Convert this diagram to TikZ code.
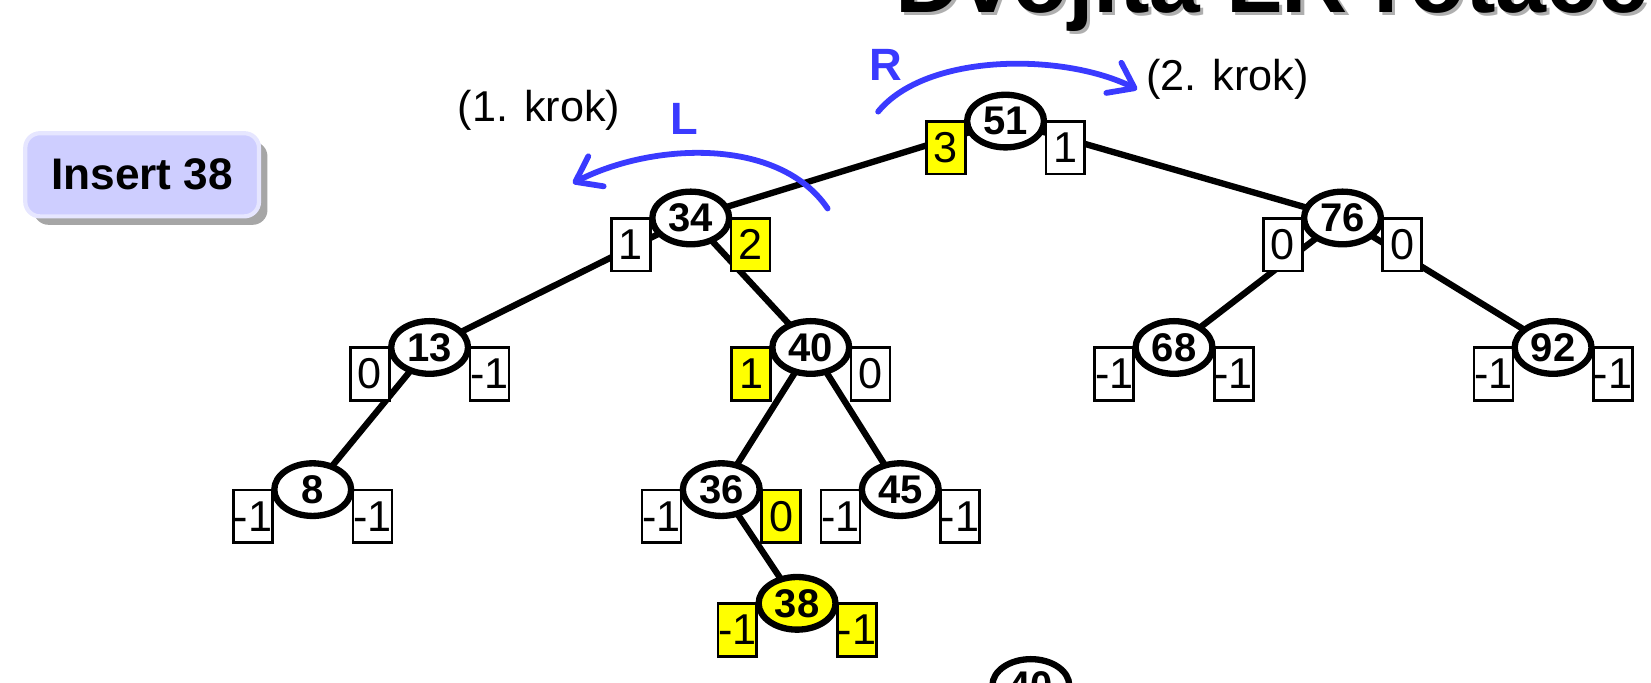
\documentclass[tikz,border=0pt]{standalone}
\usepackage{fontspec}
\setmainfont{Liberation Sans}
\usetikzlibrary{arrows.meta,backgrounds,shapes.geometric,shadows}
\definecolor{arcblue}{RGB}{58,58,255}
\definecolor{hl}{RGB}{255,255,0}
\definecolor{insfill}{RGB}{206,206,255}
\definecolor{insborder}{RGB}{230,230,255}
\definecolor{shadowgray}{RGB}{150,150,150}
\definecolor{titleshadow}{RGB}{175,175,175}
\newcommand\avlnode[9]{%
  \node[bal,#7,anchor=north east] (#1l) at (#2-37,#3-1) {#5};
  \node[bal,#8,anchor=north west] (#1r) at (#2+37,#3-1) {#6};
  \node[key,#9] (#1) at (#2,#3) {#4};
}
\begin{document}
\begin{tikzpicture}[x=1pt,y=-1pt,
  key/.style={ellipse,draw,line width=6pt,minimum width=73pt,minimum height=50pt,
    inner sep=0pt,fill=white,font=\fontsize{38}{38}\selectfont\bfseries},
  bal/.style={draw,line width=2.5pt,minimum width=37pt,minimum height=50pt,
    inner sep=0pt,fill=white,font=\fontsize{41}{41}\selectfont},
  yel/.style={fill=hl},
  edge/.style={line width=6pt},
  arc/.style={draw=arcblue,line width=5.5pt,line cap=round,
    -{Straight Barb[length=22pt,width=32pt,line cap=round,line join=round]}},
  rotlbl/.style={text=arcblue,font=\fontsize{43}{43}\selectfont\bfseries},
  steplbl/.style={font=\fontsize{41}{41}\selectfont},
  titletext/.style={font=\fontsize{87}{87}\selectfont\bfseries,inner sep=0pt,anchor=base west},
  insertbox/.style={draw=insborder,fill=insfill,line width=4pt,rounded corners=14pt,
    minimum width=222pt,minimum height=79pt,font=\fontsize{42}{42}\selectfont\bfseries,
    drop shadow={shadow xshift=8pt,shadow yshift=-8pt,fill=shadowgray,opacity=0.85}}
]
\useasboundingbox (0,0) rectangle (1568,648);
\clip (0,0) rectangle (1568,648);

% title (cut off at the top)
\node[titletext,text=titleshadow] (titlesh) at (853,15) {Dvojitá LR rotace};
\node[titletext] (title) at (850,12) {Dvojitá LR rotace};

% insert box
\node[insertbox] (ins) at (135,166) {Insert 38};

% tree
\avlnode{n51}{955}{115}{51}{3}{1}{yel}{}{}
\avlnode{n34}{656}{207}{34}{1}{2}{}{yel}{}
\avlnode{n76}{1275}{207}{76}{0}{0}{}{}{}
\avlnode{n13}{408}{330}{13}{0}{-1}{}{}{}
\avlnode{n40}{770}{330}{40}{1}{0}{yel}{}{}
\avlnode{n68}{1115}{330}{68}{-1}{-1}{}{}{}
\avlnode{n92}{1475}{330}{92}{-1}{-1}{}{}{}
\avlnode{n8}{297}{465}{8}{-1}{-1}{}{}{}
\avlnode{n36}{685}{465}{36}{-1}{0}{}{yel}{}
\avlnode{n45}{855}{465}{45}{-1}{-1}{}{}{}
\avlnode{n38}{757}{573}{38}{-1}{-1}{yel}{yel}{yel}
\node[key] (n40b) at (979,651) {40};

\begin{scope}[on background layer]
  \draw[edge] (n51.center) -- (n34.center);
  \draw[edge] (n51.center) -- (n76.center);
  \draw[edge] (n34.center) -- (n13.center);
  \draw[edge] (n34.center) -- (n40.center);
  \draw[edge] (n76.center) -- (n68.center);
  \draw[edge] (n76.center) -- (n92.center);
  \draw[edge] (n13.center) -- (n8.center);
  \draw[edge] (n40.center) -- (n36.center);
  \draw[edge] (n40.center) -- (n45.center);
  \draw[edge] (n36.center) -- (n38.center);
\end{scope}

% rotation arrows
\coordinate (aLs) at (786,198);
\coordinate (aLe) at (544,174);
\coordinate (aRs) at (834,106);
\coordinate (aRe) at (1080,85);
\draw[arc] (aLs) .. controls (740,130) and (620,135) .. (aLe);
\draw[arc] (aRs) .. controls (880,50) and (1010,50) .. (aRe);
\node[rotlbl] (lblL) at (650,113) {L};
\node[rotlbl] (lblR) at (841,62) {R};
\node[steplbl] (krok1) at (512,105) {(1. krok)};
\node[steplbl] (krok2) at (1166,75) {(2. krok)};
\end{tikzpicture}
\end{document}
